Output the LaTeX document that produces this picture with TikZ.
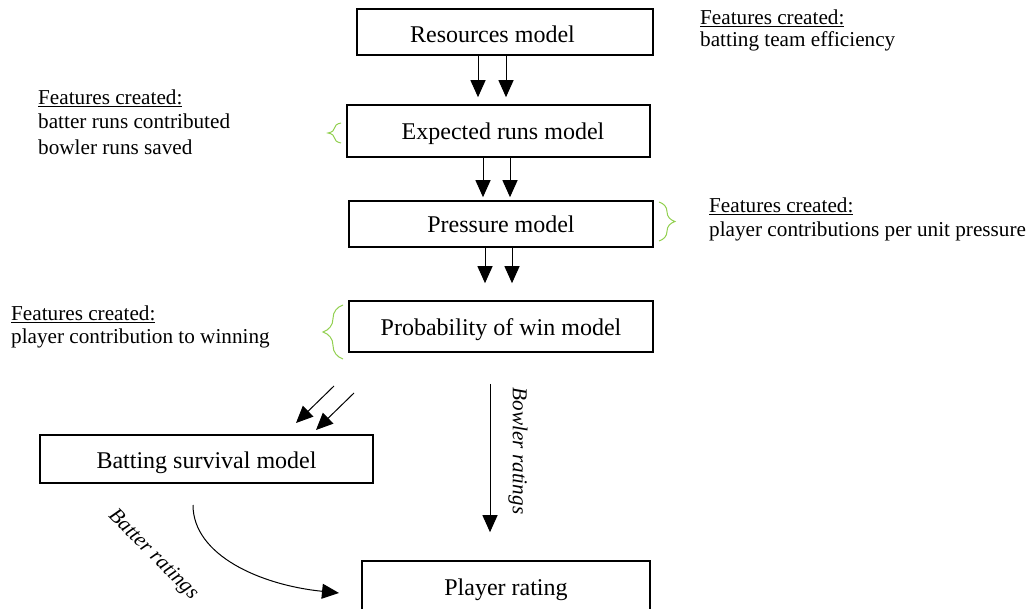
\documentclass[tikz,border=0pt]{standalone}
\usepackage{fontspec}
\setmainfont{Liberation Serif}
\usetikzlibrary{arrows.meta,decorations.pathreplacing}
\definecolor{bracegreen}{RGB}{146,208,80}
\begin{document}
\begin{tikzpicture}[x=1pt,y=-1pt,
  model/.style={draw,line width=1.6pt,inner sep=0pt,text height=18pt,text depth=0pt,
    font=\fontsize{24}{28}\selectfont},
  feat/.style={anchor=base west,inner sep=0pt,font=\fontsize{21.2}{24}\selectfont},
  lbl/.style={inner sep=0pt,font=\fontsize{21.2}{24}\selectfont\itshape},
  arr/.style={-{Triangle[width=15pt,length=17pt]},line width=1pt},
  brc/.style={draw=bracegreen,line width=1pt,decorate,decoration={brace,amplitude=#1}}]
\useasboundingbox (0,0) rectangle (1030,609);

% model boxes
\node[model,minimum width=296pt,minimum height=46pt,text height=22pt] (res) at (505,32)
  {Resources model\hspace*{25pt}};
\node[model,minimum width=303pt,minimum height=52pt] (exp) at (498.5,131)
  {\hspace*{9pt}Expected runs model};
\node[model,minimum width=304pt,minimum height=46pt] (prs) at (501,224) {Pressure model};
\node[model,minimum width=304pt,minimum height=51pt] (prb) at (501,326.5) {Probability of win model};
\node[model,minimum width=333pt,minimum height=48pt] (bat) at (206.5,459) {Batting survival model};
\node[model,minimum width=288pt,minimum height=50pt] (ply) at (506,586) {Player rating};

% paired arrows down the chain
\draw[arr,shorten >=7pt] (478,0 |- res.south) -- (478,0 |- exp.north);
\draw[arr,shorten >=7pt] (506,0 |- res.south) -- (506,0 |- exp.north);
\draw[arr,shorten >=3pt] (483,0 |- exp.south) -- (483,0 |- prs.north);
\draw[arr,shorten >=3pt] (510,0 |- exp.south) -- (510,0 |- prs.north);
\draw[arr,shorten >=17pt] (485,0 |- prs.south) -- (485,0 |- prb.north);
\draw[arr,shorten >=17pt] (512,0 |- prs.south) -- (512,0 |- prb.north);

% arrows into the batting survival model
\coordinate (d1s) at (334,386); \coordinate (d1e) at (296,423);
\coordinate (d2s) at (354,393); \coordinate (d2e) at (316,430);
\draw[arr] (d1s) -- (d1e);
\draw[arr] (d2s) -- (d2e);

% bowler ratings
\draw[arr,shorten <=31pt,shorten >=28pt] (490,0 |- prb.south) -- (490,0 |- ply.north);
\node[lbl,rotate=-90] (bowl) at (518,451) {Bowler ratings};

% batter ratings
\coordinate (cs) at (193,505); \coordinate (ce) at (339,593);
\draw[arr] (cs) .. controls (193,555) and (260,585) .. (ce);
\node[lbl,rotate=-45] (batr) at (153,555) {Batter ratings};

% feature notes
\node[feat] (f0a) at (700,25) {\underline{Features created:}};
\node[feat] (f0b) at (700,47) {batting team efficiency};
\node[feat] (f1a) at (38,105) {\underline{Features created:}};
\node[feat] (f1b) at (38,129) {batter runs contributed};
\node[feat] (f1c) at (38,155) {bowler runs saved};
\node[feat] (f2a) at (709,213) {\underline{Features created:}};
\node[feat] (f2b) at (709,237) {player contributions per unit pressure};
\node[feat] (f3a) at (11,320) {\underline{Features created:}};
\node[feat] (f3b) at (11,343) {player contribution to winning};

% green braces
\draw[brc=13pt] (341,143) -- (341,123);
\draw[brc=16pt] (659,202) -- (659,241);
\draw[brc=20pt] (343,359) -- (343,305);
\end{tikzpicture}
\end{document}
